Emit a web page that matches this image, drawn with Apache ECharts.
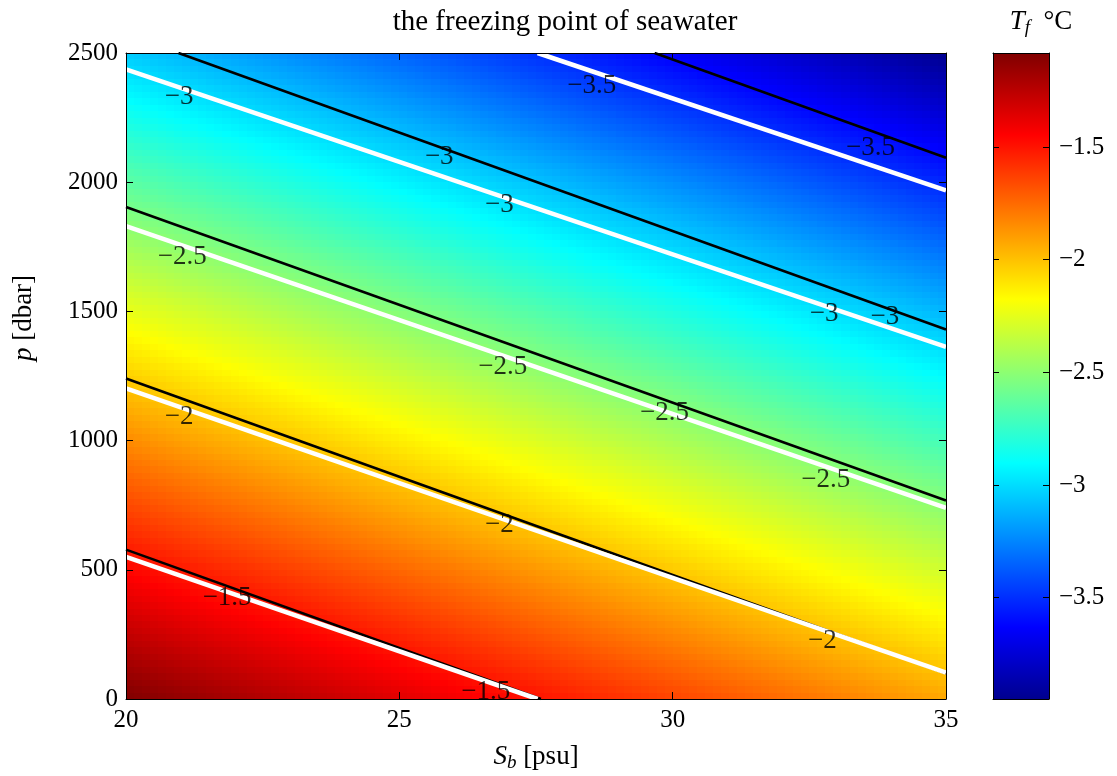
<!DOCTYPE html>
<html>
<head>
<meta charset="utf-8">
<script src="https://cdn.jsdelivr.net/npm/echarts@6/dist/echarts.min.js"></script>
<style>
html, body { margin: 0; padding: 0; background: #fff; }
#main { width: 1117px; height: 776px; }
</style>
</head>
<body>
<div id="main"></div>
<script>
// salinity nodes (psu) and pressure nodes (dbar) of the freezing point field
var salinity = [20, 25, 30, 35];
var pressure = [0, 500, 1000, 1500, 2000, 2500];
// freezing point (degC), one array per salinity node, p = 0 .. 2500
var tfS20 = [-1.083, -1.463, -1.845, -2.237, -2.640, -3.053];
var tfS25 = [-1.358, -1.741, -2.128, -2.524, -2.931, -3.347];
var tfS30 = [-1.638, -2.024, -2.416, -2.817, -3.227, -3.647];
var tfS35 = [-1.922, -2.311, -2.708, -3.113, -3.527, -3.950];
var tfGrid = [tfS20, tfS25, tfS30, tfS35];

// contour lines as [S, p] end points, levels -1.5 .. -3.5
var blackLines = [
    [[20, 578], [27.59, 0]],
    [[20, 1240], [35, 100]],
    [[20, 1904], [35, 768]],
    [[20.96, 2500], [35, 1430]],
    [[29.67, 2500], [35, 2095]]
];
var whiteLines = [
    [[20, 550], [27.53, 0]],
    [[20, 1202], [35, 102]],
    [[20, 1830], [35, 740]],
    [[20, 2437], [35, 1363]],
    [[27.53, 2500], [35, 1968]]
];

// contour labels
var labelS = [20.97, 25.73, 26.83, 28.52, 33.62, 32.77, 33.88, 21.03, 26.89, 29.85, 32.80, 20.97, 26.83, 32.74, 21.85, 26.58];
var labelP = [2331, 2099, 1912, 2372, 2132, 1492, 1479, 1712, 1286, 1108, 848, 1093, 674, 224, 390, 29];
var labelV = [-3, -3, -3, -3.5, -3.5, -3, -3, -2.5, -2.5, -2.5, -2.5, -2, -2, -2, -1.5, -1.5];

var cbTicks = [-3.5, -3, -2.5, -2, -1.5];

var FONT = '"Liberation Serif", "DejaVu Serif", serif';
var jetStops = [[0, [0, 0, 143]], [0.111, [0, 0, 255]], [0.365, [0, 255, 255]],
                [0.619, [255, 255, 0]], [0.873, [255, 0, 0]], [1, [128, 0, 0]]];

var vmin = Infinity, vmax = -Infinity;
tfGrid.forEach(function (col) {
    col.forEach(function (v) { vmin = Math.min(vmin, v); vmax = Math.max(vmax, v); });
});

function jet(t) {
    var u = (t - vmin) / (vmax - vmin);
    u = Math.max(0, Math.min(1, u));
    for (var k = 1; k < jetStops.length; k++) {
        if (u <= jetStops[k][0]) {
            var a = jetStops[k - 1], b = jetStops[k];
            var f = (u - a[0]) / (b[0] - a[0]);
            var c = [0, 1, 2].map(function (n) { return Math.round(a[1][n] + f * (b[1][n] - a[1][n])); });
            return 'rgb(' + c.join(',') + ')';
        }
    }
    return 'rgb(128,0,0)';
}

function minus(v) { return String(v).replace('-', '\u2212'); }

// cells between grid nodes: [S0, S1, p0, p1, t00, t10, t01, t11]
var cells = [];
for (var i = 0; i < salinity.length - 1; i++) {
    for (var j = 0; j < pressure.length - 1; j++) {
        cells.push([salinity[i], salinity[i + 1], pressure[j], pressure[j + 1],
            tfGrid[i][j], tfGrid[i + 1][j], tfGrid[i][j + 1], tfGrid[i + 1][j + 1]]);
    }
}

// interpolated shading inside one cell, drawn as small blocks
function renderCell(params, api) {
    var a = api.coord([api.value(0), api.value(2)]);
    var b = api.coord([api.value(1), api.value(3)]);
    var t00 = api.value(4), t10 = api.value(5), t01 = api.value(6), t11 = api.value(7);
    var nx = Math.max(1, Math.round((b[0] - a[0]) / 8));
    var ny = Math.max(1, Math.round((a[1] - b[1]) / 6.5));
    var children = [];
    for (var m = 0; m < nx; m++) {
        var xa = Math.round(a[0] + m * (b[0] - a[0]) / nx);
        var xb = Math.round(a[0] + (m + 1) * (b[0] - a[0]) / nx);
        for (var n = 0; n < ny; n++) {
            var ya = Math.round(a[1] - n * (a[1] - b[1]) / ny);
            var yb = Math.round(a[1] - (n + 1) * (a[1] - b[1]) / ny);
            var u = (m + 0.5) / nx, v = (n + 0.5) / ny;
            var t = t00 * (1 - u) * (1 - v) + t10 * u * (1 - v) + t01 * (1 - u) * v + t11 * u * v;
            children.push({
                type: 'rect',
                shape: { x: xa, y: yb, width: xb - xa, height: ya - yb },
                style: { fill: jet(t) },
                silent: true
            });
        }
    }
    return { type: 'group', children: children };
}

function renderColorbar(params, api) {
    var a = api.coord([api.value(0), api.value(2)]);
    var b = api.coord([api.value(1), api.value(3)]);
    return {
        type: 'rect',
        shape: { x: a[0], y: b[1], width: b[0] - a[0], height: a[1] - b[1] },
        style: {
            fill: new echarts.graphic.LinearGradient(0, 1, 0, 0, jetStops.map(function (s) {
                return { offset: s[0], color: 'rgb(' + s[1].join(',') + ')' };
            }))
        }
    };
}

var frame = { show: true, onZero: false, lineStyle: { color: '#000', width: 1 } };
var tickStyle = { show: true, inside: true, length: 7, lineStyle: { color: '#000', width: 1 } };
var cbTickStyle = { show: true, inside: true, length: 6, customValues: cbTicks, lineStyle: { color: '#000', width: 1 } };
var labelStyle = { color: '#000', fontFamily: FONT, fontSize: 25 };

var series = [{
    type: 'custom',
    renderItem: renderCell,
    data: cells,
    encode: { x: [0, 1], y: [2, 3] },
    clip: true,
    silent: true,
    z: 1
}];
blackLines.forEach(function (ln) {
    series.push({ type: 'line', data: ln, showSymbol: false, silent: true, z: 3,
        lineStyle: { color: '#000', width: 2.6 } });
});
whiteLines.forEach(function (ln) {
    series.push({ type: 'line', data: ln, showSymbol: false, silent: true, z: 4,
        lineStyle: { color: '#fff', width: 4.5 } });
});
series.push({
    type: 'scatter',
    data: labelS.map(function (s, k) { return [s, labelP[k], labelV[k]]; }),
    symbolSize: 1,
    itemStyle: { color: 'rgba(0,0,0,0)' },
    silent: true,
    z: 6,
    label: {
        show: true, position: 'inside', color: '#000', fontFamily: FONT, fontSize: 27,
        formatter: function (p) { return minus(p.value[2]); }
    }
});
series.push({
    type: 'custom',
    xAxisIndex: 2, yAxisIndex: 2,
    renderItem: renderColorbar,
    data: [[0, 1, vmin, vmax]],
    encode: { x: [0, 1], y: [2, 3] },
    silent: true
});

var chart = echarts.init(document.getElementById('main'), null, { renderer: 'canvas' });
chart.setOption({
    animation: false,
    backgroundColor: '#fff',
    grid: [
        { left: 126, top: 53, width: 820, height: 646 },
        { left: 993, top: 53, width: 56, height: 646 }
    ],
    xAxis: [
        { type: 'value', gridIndex: 0, min: 20, max: 35, interval: 5, position: 'bottom', z: 10,
          axisLine: frame, axisTick: tickStyle, splitLine: { show: false },
          axisLabel: Object.assign({ margin: 9, formatter: function (v) { return String(v); } }, labelStyle) },
        { type: 'value', gridIndex: 0, min: 20, max: 35, interval: 5, position: 'top', z: 10,
          axisLine: frame, axisTick: tickStyle, splitLine: { show: false },
          axisLabel: { show: false } },
        { type: 'value', gridIndex: 1, min: 0, max: 1, position: 'bottom', z: 10,
          axisLine: frame, axisTick: { show: false }, axisLabel: { show: false }, splitLine: { show: false } },
        { type: 'value', gridIndex: 1, min: 0, max: 1, position: 'top', z: 10,
          axisLine: frame, axisTick: { show: false }, axisLabel: { show: false }, splitLine: { show: false } }
    ],
    yAxis: [
        { type: 'value', gridIndex: 0, min: 0, max: 2500, interval: 500, position: 'left', z: 10,
          axisLine: frame, axisTick: tickStyle, splitLine: { show: false },
          axisLabel: Object.assign({ margin: 8, formatter: function (v) { return String(v); } }, labelStyle) },
        { type: 'value', gridIndex: 0, min: 0, max: 2500, interval: 500, position: 'right', z: 10,
          axisLine: frame, axisTick: tickStyle, splitLine: { show: false },
          axisLabel: { show: false } },
        { type: 'value', gridIndex: 1, min: vmin, max: vmax, position: 'right', z: 10,
          axisLine: frame, splitLine: { show: false }, axisTick: cbTickStyle,
          axisLabel: Object.assign({ customValues: cbTicks, margin: 10, formatter: minus }, labelStyle) },
        { type: 'value', gridIndex: 1, min: vmin, max: vmax, position: 'left', z: 10,
          axisLine: frame, splitLine: { show: false }, axisTick: cbTickStyle,
          axisLabel: { show: false } }
    ],
    graphic: [
        { type: 'text', x: 565, y: 22, silent: true,
          style: { text: 'the freezing point of seawater', fill: '#000', font: '29px ' + FONT, align: 'center', verticalAlign: 'middle' } },
        { type: 'text', x: 1041, y: 22, silent: true,
          style: { text: '{i|T}{s|f}{n|  \u00b0C}', align: 'center', verticalAlign: 'middle', fill: '#000',
                   rich: { i: { fontFamily: FONT, fontSize: 27, fontStyle: 'italic' },
                           s: { fontFamily: FONT, fontSize: 19, fontStyle: 'italic', padding: [12, 0, 0, 0] },
                           n: { fontFamily: FONT, fontSize: 27 } } } },
        { type: 'text', x: 536, y: 757, silent: true,
          style: { text: '{i|S}{s|b}{n| [psu]}', align: 'center', verticalAlign: 'middle', fill: '#000',
                   rich: { i: { fontFamily: FONT, fontSize: 27, fontStyle: 'italic' },
                           s: { fontFamily: FONT, fontSize: 19, fontStyle: 'italic', padding: [12, 0, 0, 0] },
                           n: { fontFamily: FONT, fontSize: 27 } } } },
        { type: 'text', x: 24, y: 318, rotation: Math.PI / 2, silent: true,
          style: { text: '{i|p}{n| [dbar]}', align: 'center', verticalAlign: 'middle', fill: '#000',
                   rich: { i: { fontFamily: FONT, fontSize: 27, fontStyle: 'italic' },
                           n: { fontFamily: FONT, fontSize: 27 } } } }
    ],
    series: series
});
</script>
</body>
</html>
